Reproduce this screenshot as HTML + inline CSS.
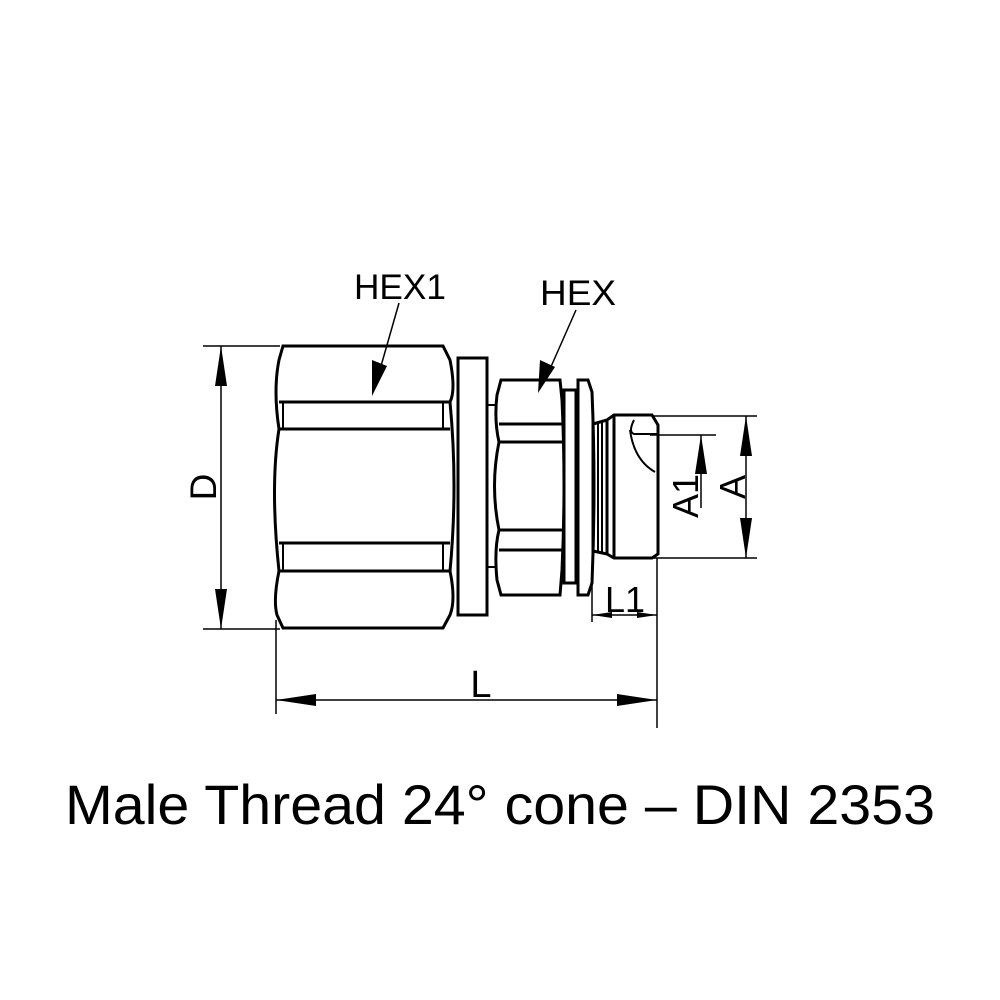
<!DOCTYPE html>
<html><head><style>html,body{margin:0;padding:0;background:#fff}svg{display:block}</style></head>
<body>
<svg width="1000" height="1000" viewBox="0 0 1000 1000" xmlns="http://www.w3.org/2000/svg">
<g fill="none" stroke="#000" stroke-width="3">
<!-- big hex -->
<path d="M283,346 L443,346 L450,360 Q456,390 450,402 Q458,486 450,571 Q456,600 450,615 L443,628 L283,628 L277,615 Q273,600 279,571 Q270,486 279,429 Q273,390 279,360 Z"/>
<line x1="279" y1="402" x2="450" y2="402"/><line x1="279" y1="429" x2="450" y2="429"/>
<line x1="279" y1="543" x2="450" y2="543"/><line x1="279" y1="571" x2="450" y2="571"/>
<line x1="283" y1="402" x2="283" y2="429" stroke-width="2"/><line x1="283" y1="543" x2="283" y2="571" stroke-width="2"/>
<line x1="443" y1="402" x2="443" y2="429" stroke-width="2"/><line x1="443" y1="543" x2="443" y2="571" stroke-width="2"/>
<!-- collar -->
<rect x="458" y="358" width="29" height="257"/>
<line x1="487" y1="405" x2="497" y2="405" stroke-width="2"/><line x1="487" y1="567" x2="497" y2="567" stroke-width="2"/>
<!-- small hex -->
<path d="M501,380 L560,380 L562,400 Q566,486 562,570 L560,595 L501,595 L497,580 Q494,550 499,530 Q490,486 499,442 Q494,420 497,395 Z"/>
<line x1="499" y1="424" x2="562" y2="424"/><line x1="499" y1="442" x2="562" y2="442"/>
<line x1="499" y1="530" x2="562" y2="530"/><line x1="499" y1="550" x2="562" y2="550"/>
<rect x="564" y="390" width="12" height="193"/>
<path d="M578,380 L588,380 L592,392 Q596,486 592,583 L588,595 L578,595 Z"/>
<!-- neck -->
<path d="M593,424 L607,420 L607,554 L593,551 Z"/>
<line x1="598" y1="424" x2="598" y2="551" stroke-width="2"/><line x1="602" y1="422" x2="602" y2="552" stroke-width="2"/>
<!-- thread -->
<path d="M607,420 L614,415 L652,415 L658,425 L658,554 L652,558 L614,558 L607,554"/>
<line x1="614" y1="415" x2="614" y2="558"/>
<path d="M634,420 Q628,432 634,434 L658,434 M630,430 Q634,460 655,472" stroke-width="2"/>
</g>
<g stroke="#000" stroke-width="1.5" fill="none">
<line x1="203" y1="346" x2="280" y2="346"/><line x1="203" y1="629" x2="280" y2="629"/>
<line x1="221" y1="346" x2="221" y2="629"/>
<line x1="276" y1="620" x2="276" y2="714"/><line x1="657" y1="558" x2="657" y2="728"/>
<line x1="276" y1="700" x2="657" y2="700"/>
<line x1="652" y1="416" x2="757" y2="416"/><line x1="652" y1="558" x2="757" y2="558"/>
<line x1="746" y1="416" x2="746" y2="558"/>
<line x1="650" y1="435" x2="716" y2="435"/><line x1="701" y1="435" x2="701" y2="508"/>
<line x1="592" y1="585" x2="592" y2="622"/><line x1="592" y1="615" x2="657" y2="615"/>
<line x1="399" y1="303" x2="377" y2="380"/><line x1="576" y1="310" x2="546" y2="378"/>
</g>
<g fill="#000">
<path d="M221,346 L215,386 L227,386 Z"/><path d="M221,629 L215,589 L227,589 Z"/>
<path d="M276,700 L316,694 L316,706 Z"/><path d="M657,700 L617,694 L617,706 Z"/>
<path d="M746,416 L740,456 L752,456 Z"/><path d="M746,558 L740,518 L752,518 Z"/>
<path d="M701,435 L695,474 L707,474 Z"/>
<path d="M592,615 L612,612 L612,618 Z"/><path d="M657,615 L637,612 L637,618 Z"/>
<path d="M372,396 L372,360 L387,366 Z"/><path d="M538,393 L540,360 L555,367 Z"/>
</g>
<g font-family="Liberation Sans, sans-serif" fill="#000">
<text x="354" y="299" font-size="35" textLength="92" lengthAdjust="spacingAndGlyphs">HEX1</text>
<text x="540" y="305" font-size="35" textLength="76" lengthAdjust="spacingAndGlyphs">HEX</text>
<text x="216" y="487" font-size="37" transform="rotate(-90 216 487)" text-anchor="middle">D</text>
<text x="481" y="697" font-size="38" text-anchor="middle">L</text>
<text x="625" y="612" font-size="36" text-anchor="middle">L1</text>
<text x="698" y="496" font-size="36" transform="rotate(-90 698 496)" text-anchor="middle">A1</text>
<text x="745" y="487" font-size="36" transform="rotate(-90 745 487)" text-anchor="middle">A</text>
<text x="65" y="824" font-size="56" textLength="870" lengthAdjust="spacingAndGlyphs">Male Thread 24° cone – DIN 2353</text>
</g>
</svg>
</body></html>
